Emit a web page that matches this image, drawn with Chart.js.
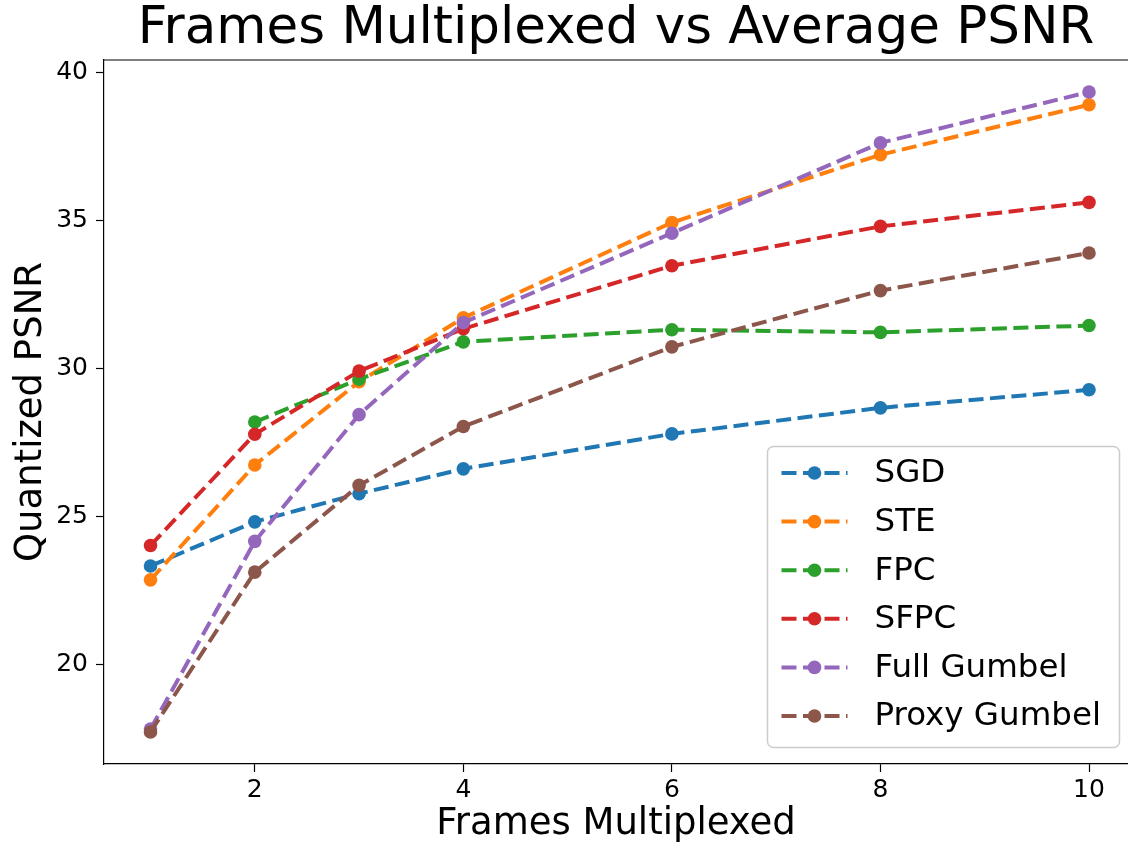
<!DOCTYPE html>
<html>
<head>
<meta charset="utf-8">
<title>Frames Multiplexed vs Average PSNR</title>
<script src="https://cdn.jsdelivr.net/npm/chart.js@4/dist/chart.umd.min.js"></script>
<style>
    html, body { margin: 0; padding: 0; background: #ffffff; }
    #wrap { width: 1128px; height: 847px; }
</style>
</head>
<body>
<div id="wrap"><canvas id="psnrChart" width="1128" height="847"></canvas></div>
<script>
// frames multiplexed (x) and average quantized PSNR per method
var frames = [1, 2, 3, 4, 6, 8, 10];
var sgd = [23.33, 24.82, 25.77, 26.61, 27.79, 28.67, 29.28];
var ste = [22.86, 26.74, 29.55, 31.71, 34.93, 37.22, 38.91];
var fpc = [null, 28.19, 29.64, 30.90, 31.31, 31.22, 31.45];
var sfpc = [24.02, 27.78, 29.91, 31.34, 33.47, 34.80, 35.61];
var fullGumbel = [17.82, 24.16, 28.44, 31.55, 34.57, 37.62, 39.34];
var proxyGumbel = [17.72, 23.12, 26.05, 28.04, 30.73, 32.63, 33.90];

var xTicks = [2, 4, 6, 8, 10];
var yTicks = [20, 25, 30, 35, 40];

var FONT = "'DejaVu Sans', 'Liberation Sans', sans-serif";

var toPoints = function (values) {
    var pts = [];
    for (var i in frames) {
        pts.push({ x: frames[i], y: values[i] });
    }
    return pts;
};

var series = [
    { label: "SGD", color: "#1f77b4", values: sgd },
    { label: "STE", color: "#ff7f0e", values: ste },
    { label: "FPC", color: "#2ca02c", values: fpc },
    { label: "SFPC", color: "#d62728", values: sfpc },
    { label: "Full Gumbel", color: "#9467bd", values: fullGumbel },
    { label: "Proxy Gumbel", color: "#8c564b", values: proxyGumbel },
];

var datasets = series.map(function (s, i) {
    return {
        label: s.label,
        data: toPoints(s.values),
        borderColor: s.color,
        backgroundColor: s.color,
        borderWidth: 4,
        borderDash: [15, 6.5],
        pointRadius: 6.8,
        pointBorderWidth: 0,
        pointHoverRadius: 6.8,
        spanGaps: false,
        tension: 0,
        // later series sit on top, like the original plot
        order: series.length - i,
    };
});

// top spine of the axes box
var frameTop = {
    id: "frameTop",
    afterDraw: function (chart) {
        var a = chart.chartArea;
        var ctx = chart.ctx;
        ctx.save();
        ctx.strokeStyle = "#000";
        ctx.lineWidth = 1.2;
        ctx.beginPath();
        ctx.moveTo(a.left, a.top);
        ctx.lineTo(a.right, a.top);
        ctx.stroke();
        ctx.restore();
    },
};

// legend box in the lower right of the plot
var legendBox = {
    id: "legendBox",
    afterDraw: function (chart) {
        var a = chart.chartArea;
        var ctx = chart.ctx;
        var w = 352, h = 301;
        var bx = a.right - 9 - w + 0.5;
        var by = a.bottom - 17 - h + 0.5;
        ctx.save();
        ctx.fillStyle = "rgba(255,255,255,0.8)";
        ctx.strokeStyle = "#cccccc";
        ctx.lineWidth = 1.5;
        ctx.beginPath();
        ctx.roundRect(bx, by, w, h, 6);
        ctx.fill();
        ctx.stroke();

        chart.data.datasets.forEach(function (ds, i) {
            var y = by + 26.5 + i * 48.6;
            var x0 = bx + 14;
            ctx.strokeStyle = ds.borderColor;
            ctx.lineWidth = 4;
            ctx.setLineDash([15, 6.5]);
            ctx.beginPath();
            ctx.moveTo(x0, y);
            ctx.lineTo(x0 + 66, y);
            ctx.stroke();
            ctx.setLineDash([]);
            ctx.fillStyle = ds.borderColor;
            ctx.beginPath();
            ctx.arc(x0 + 33, y, 6.8, 0, Math.PI * 2);
            ctx.fill();

            ctx.fillStyle = "#000";
            ctx.font = "32.5px " + FONT;
            ctx.textBaseline = "middle";
            ctx.textAlign = "left";
            ctx.fillText(ds.label, x0 + 93, y + 1);
        });
        ctx.restore();
    },
};

var ctx = document.getElementById("psnrChart").getContext("2d");
var chart = new Chart(ctx, {
    type: "line",
    data: { datasets: datasets },
    options: {
        responsive: false,
        animation: false,
        devicePixelRatio: 1,
        layout: { padding: 0, autoPadding: false },
        plugins: {
            legend: { display: false },
            tooltip: { enabled: false },
            title: {
                display: true,
                text: "Frames Multiplexed vs Average PSNR",
                color: "#000",
                fullSize: false,
                font: { family: FONT, size: 51.5, weight: "normal", lineHeight: "60px" },
                padding: { top: 0, bottom: 0 },
            },
        },
        scales: {
            x: {
                type: "linear",
                min: 0.554,
                max: 10.374,
                afterFit: function (scale) {
                    scale.height = 83;
                },
                afterBuildTicks: function (scale) {
                    scale.ticks = xTicks.map(function (v) {
                        return { value: v };
                    });
                },
                grid: {
                    display: true,
                    drawOnChartArea: false,
                    drawTicks: true,
                    tickLength: 8,
                    tickColor: "#000",
                    tickWidth: 1.2,
                },
                border: { display: true, color: "#000", width: 1.2 },
                ticks: {
                    color: "#000",
                    padding: 3,
                    maxRotation: 0,
                    font: { family: FONT, size: 25 },
                },
                title: {
                    display: true,
                    text: "Frames Multiplexed",
                    color: "#000",
                    font: { family: FONT, size: 37, lineHeight: 1.2 },
                    padding: { top: 0, bottom: 0 },
                },
            },
            y: {
                type: "linear",
                min: 16.64,
                max: 40.42,
                afterFit: function (scale) {
                    scale.width = 104;
                },
                afterBuildTicks: function (scale) {
                    scale.ticks = yTicks.map(function (v) {
                        return { value: v };
                    });
                },
                grid: {
                    display: true,
                    drawOnChartArea: false,
                    drawTicks: true,
                    tickLength: 8,
                    tickColor: "#000",
                    tickWidth: 1.2,
                },
                border: { display: true, color: "#000", width: 1.2 },
                ticks: {
                    color: "#000",
                    padding: 8,
                    font: { family: FONT, size: 25 },
                },
                title: {
                    display: true,
                    text: "Quantized PSNR",
                    color: "#000",
                    font: { family: FONT, size: 37, lineHeight: 1.2 },
                    padding: { top: 9, bottom: 0 },
                },
            },
        },
    },
    plugins: [frameTop, legendBox],
});
</script>
</body>
</html>
